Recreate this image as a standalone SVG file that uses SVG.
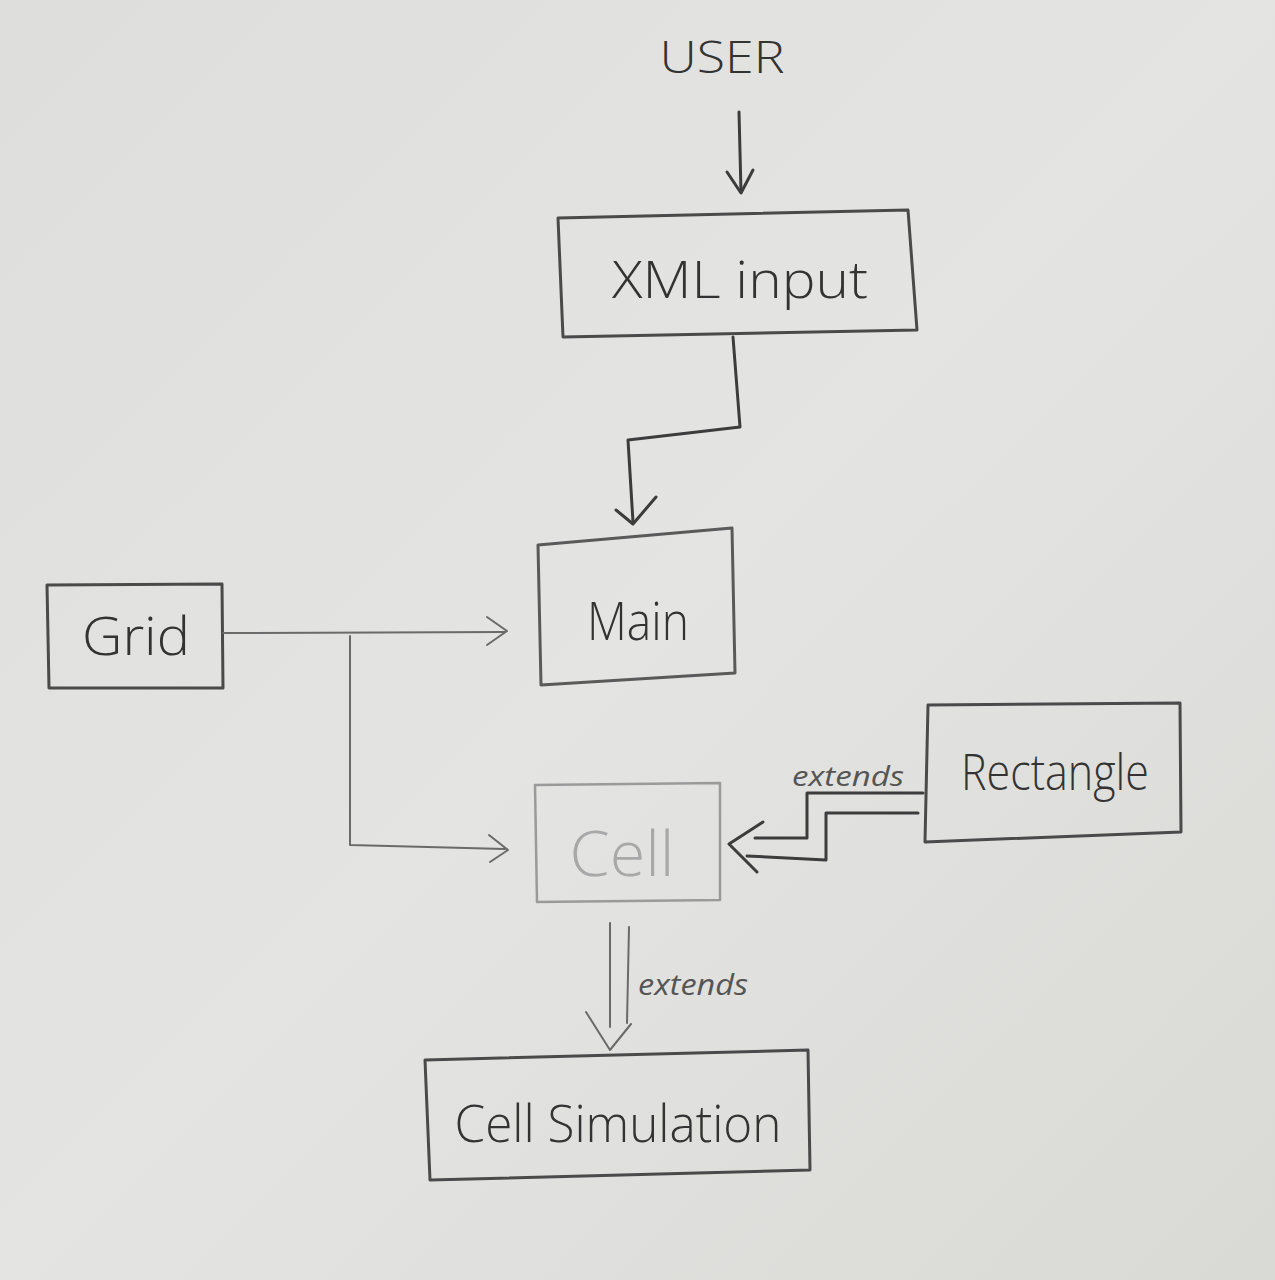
<svg xmlns="http://www.w3.org/2000/svg" width="1275" height="1280" viewBox="0 0 1275 1280">
<defs>
<linearGradient id="paper" x1="0" y1="0" x2="1" y2="1">
<stop offset="0" stop-color="#dededc"/>
<stop offset="0.5" stop-color="#e4e4e2"/>
<stop offset="1" stop-color="#d9d9d6"/>
</linearGradient>
<style>
.box{fill:none;stroke:#4a4a4a;stroke-width:3;stroke-linejoin:round}
.light{fill:none;stroke:#9a9a9a;stroke-width:2.5;stroke-linejoin:round}
.line{fill:none;stroke:#3c3c3c;stroke-width:3;stroke-linejoin:round;stroke-linecap:round}
.thin{fill:none;stroke:#6a6a6a;stroke-width:2;stroke-linejoin:round;stroke-linecap:round}
.lbl{font-family:"Open Sans","Liberation Sans",sans-serif;fill:#333;font-weight:300;text-anchor:middle}
.small{font-family:"Open Sans","Liberation Sans",sans-serif;fill:#555;font-style:italic;font-weight:400;text-anchor:middle}
</style>
</defs>
<rect x="0" y="0" width="1275" height="1280" fill="url(#paper)"/>

<g id="user">
<text class="lbl" x="722" y="73" font-size="44" textLength="125" lengthAdjust="spacingAndGlyphs">USER</text>
</g>

<g id="xml-input">
<path class="box" d="M558 218 L908 210 L917 330 L563 337 Z"/>
<text class="lbl" x="740" y="298" font-size="52" textLength="256" lengthAdjust="spacingAndGlyphs">XML input</text>
</g>

<g id="main">
<path class="box" d="M538 545 L732 528 L735 673 L541 685 Z" style="stroke:#5a5a5a"/>
<text class="lbl" x="638" y="640" font-size="54" textLength="102" lengthAdjust="spacingAndGlyphs">Main</text>
</g>

<g id="grid">
<path class="box" d="M47 585 L222 584 L223 688 L49 688 Z"/>
<text class="lbl" x="136" y="655" font-size="54" textLength="108" lengthAdjust="spacingAndGlyphs">Grid</text>
</g>

<g id="cell">
<path class="light" d="M535 785 L720 783 L720 900 L537 902 Z"/>
<text class="lbl" x="622" y="876" font-size="62" textLength="105" lengthAdjust="spacingAndGlyphs" style="fill:#a8a8a8">Cell</text>
</g>

<g id="rectangle">
<path class="box" d="M928 705 L1180 703 L1181 832 L925 842 Z"/>
<text class="lbl" x="1055" y="790" font-size="50" textLength="188" lengthAdjust="spacingAndGlyphs">Rectangle</text>
</g>

<g id="cell-simulation">
<path class="box" d="M425 1060 L808 1050 L810 1170 L430 1180 Z"/>
<text class="lbl" x="618" y="1142" font-size="52" textLength="327" lengthAdjust="spacingAndGlyphs">Cell Simulation</text>
</g>

<g id="connectors">
<!-- USER -> XML input -->
<path class="line" d="M739 112 L741 192"/>
<path class="line" d="M727 172 L741 193 L753 170"/>
<!-- XML input -> Main -->
<path class="line" d="M733 337 L740 427 L628 440 L633 522"/>
<path class="line" d="M616 510 L633 524 L656 497"/>
<!-- Grid -> Main -->
<path class="thin" d="M223 633 L505 632"/>
<path class="thin" d="M487 617 L507 631 L487 645"/>
<!-- Grid -> Cell -->
<path class="thin" d="M350 636 L350 845 L505 849"/>
<path class="thin" d="M489 835 L508 850 L490 862"/>
<!-- Rectangle -> Cell (extends) -->
<path class="line" d="M923 793 L807 793 L807 838 L755 838"/>
<path class="line" d="M918 813 L826 813 L826 860 L747 856"/>
<path class="line" d="M763 822 L729 844 L757 872"/>
<text class="small" x="848" y="786" font-size="28" textLength="112" lengthAdjust="spacingAndGlyphs">extends</text>
<!-- Cell -> Cell Simulation (extends) -->
<path class="thin" d="M610 923 L610 1027"/>
<path class="thin" d="M629 927 L627 1023"/>
<path class="thin" d="M586 1012 L610 1050 L631 1024"/>
<text class="small" x="693" y="995" font-size="30" textLength="110" lengthAdjust="spacingAndGlyphs">extends</text>
</g>
</svg>
